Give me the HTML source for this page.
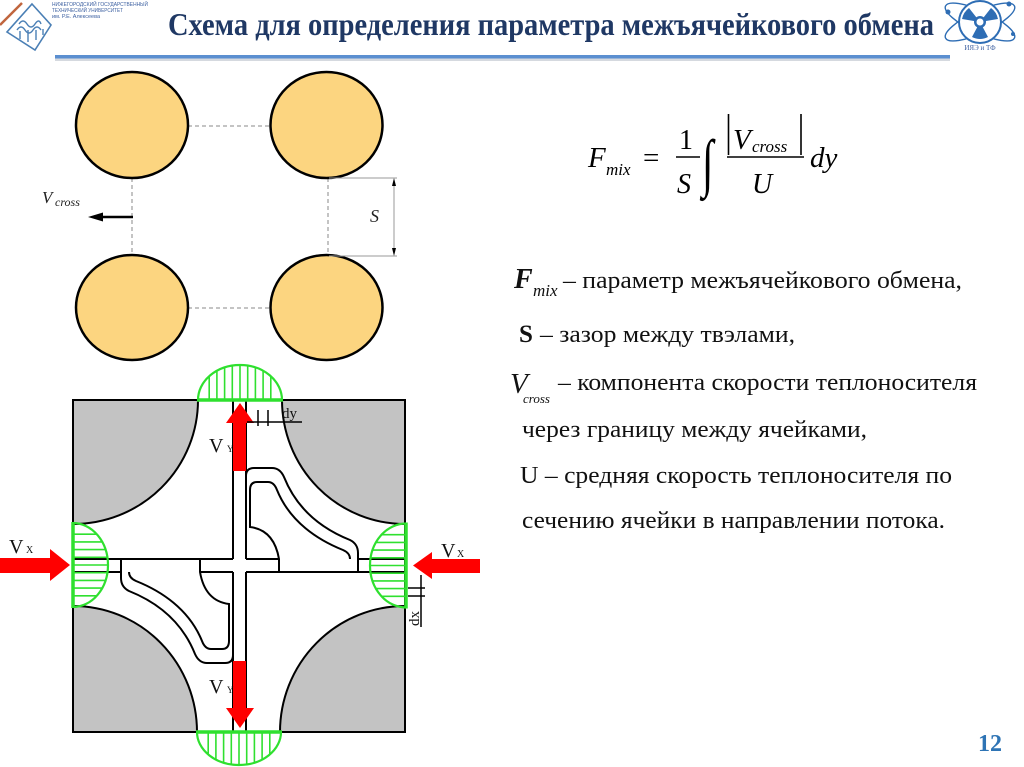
<!DOCTYPE html>
<html>
<head>
<meta charset="utf-8">
<style>
html,body{margin:0;padding:0;background:#fff;}
svg{display:block;}
</style>
</head>
<body>
<svg width="1024" height="767" viewBox="0 0 1024 767" xmlns="http://www.w3.org/2000/svg">
<rect x="0" y="0" width="1024" height="767" fill="#ffffff"/>

<!-- ===== Header ===== -->
<line x1="0" y1="25" x2="22" y2="3" stroke="#c0653e" stroke-width="2.5"/>
<polygon points="32,4 51,25 35,50 7,32" fill="none" stroke="#4a7fb5" stroke-width="1.6"/>
<path d="M17,30 q4,-6 8,0 t8,0 t8,0" fill="none" stroke="#4a7fb5" stroke-width="1.4"/>
<path d="M19,24 q4,-6 8,0 t8,0 t6,0" fill="none" stroke="#4a7fb5" stroke-width="1.4"/>
<path d="M20,31 v8 M28,30 v12 M36,30 v10 M43,29 v6" fill="none" stroke="#4a7fb5" stroke-width="1.4"/>
<g font-family="Liberation Sans, DejaVu Sans, sans-serif" font-size="5.5" fill="#3b5fa0">
<text x="52" y="6" textLength="96" lengthAdjust="spacingAndGlyphs">НИЖЕГОРОДСКИЙ ГОСУДАРСТВЕННЫЙ</text>
<text x="52" y="12" textLength="71" lengthAdjust="spacingAndGlyphs">ТЕХНИЧЕСКИЙ УНИВЕРСИТЕТ</text>
<text x="52" y="18" textLength="48" lengthAdjust="spacingAndGlyphs">им. Р.Е. Алексеева</text>
</g>

<text x="168" y="35" font-family="Liberation Serif, Noto Serif CJK SC, serif" font-weight="bold" font-size="32" fill="#1f3864" textLength="766" lengthAdjust="spacingAndGlyphs">Схема для определения параметра межъячейкового обмена</text>

<rect x="55" y="58" width="895" height="3" fill="#d5d9df"/>
<rect x="55" y="55" width="895" height="3.5" fill="#5b8fd0"/>

<g fill="none" stroke="#2e6db4" stroke-width="1.4">
<ellipse cx="980" cy="22" rx="38" ry="11" transform="rotate(25 980 22)"/>
<ellipse cx="980" cy="22" rx="38" ry="11" transform="rotate(-25 980 22)"/>
</g>
<circle cx="980" cy="22" r="21" fill="#ffffff" stroke="#2e6db4" stroke-width="2"/>
<g fill="#2e6db4">
<path d="M980,22 L969,8 A18,18 0 0 0 962,19 Z"/>
<path d="M980,22 L991,8 A18,18 0 0 1 998,19 Z"/>
<path d="M980,22 L972,37 A18,18 0 0 0 988,37 Z"/>
<circle cx="980" cy="22" r="6"/>
<circle cx="948" cy="12" r="2.5"/>
<circle cx="1009" cy="4" r="2.5"/>
<circle cx="1013" cy="34" r="2"/>
</g>
<circle cx="980" cy="22" r="3.5" fill="#ffffff"/>
<text x="980" y="50" text-anchor="middle" font-family="Liberation Serif, serif" font-size="7" fill="#3b5fa0">ИЯЭ и ТФ</text>

<!-- ===== Top diagram (rods) ===== -->
<g stroke="#8a8a8a" stroke-width="1" stroke-dasharray="4 3">
<line x1="188" y1="126" x2="270" y2="126"/>
<line x1="188" y1="308" x2="270" y2="308"/>
<line x1="132" y1="178" x2="132" y2="255"/>
<line x1="328" y1="178" x2="328" y2="255"/>
</g>
<g fill="#fcd580" stroke="#000" stroke-width="2.5">
<ellipse cx="132" cy="125" rx="56" ry="53"/>
<ellipse cx="326.5" cy="125" rx="56" ry="53"/>
<ellipse cx="132" cy="307.5" rx="56" ry="52.5"/>
<ellipse cx="326.5" cy="307.5" rx="56" ry="52.5"/>
</g>
<g stroke="#999" stroke-width="1">
<line x1="329" y1="178" x2="397" y2="178"/>
<line x1="329" y1="256" x2="397" y2="256"/>
<line x1="394" y1="180" x2="394" y2="254"/>
</g>
<polygon points="394,178 392,186 396,186" fill="#000"/>
<polygon points="394,256 392,248 396,248" fill="#000"/>
<text x="370" y="222" font-family="Liberation Serif, serif" font-style="italic" font-size="18" fill="#222">S</text>
<line x1="133" y1="217" x2="100" y2="217" stroke="#000" stroke-width="2.5"/>
<polygon points="88,217 103,212.5 103,221.5" fill="#000"/>
<text x="42" y="203" font-family="Liberation Serif, serif" font-style="italic" font-size="17" fill="#222">V</text>
<text x="55" y="206" font-family="Liberation Serif, serif" font-style="italic" font-size="12" fill="#222">cross</text>

<!-- ===== Formula ===== -->
<g font-family="Liberation Serif, serif" fill="#000">
<text x="588" y="167" font-style="italic" font-size="29">F</text>
<text x="606" y="175" font-style="italic" font-size="17">mix</text>
<text x="643" y="167" font-size="29">=</text>
<text x="679" y="149" font-size="28">1</text>
<text x="677" y="193" font-style="italic" font-size="28">S</text>
<text transform="translate(702,184) scale(0.95,1.45)" font-size="44">∫</text>
<text x="733" y="149" font-style="italic" font-size="29">V</text>
<text x="752" y="152" font-style="italic" font-size="17">cross</text>
<text x="752" y="193" font-style="italic" font-size="28">U</text>
<text x="810" y="167" font-style="italic" font-size="29">dy</text>
</g>
<line x1="676" y1="157" x2="700" y2="157" stroke="#000" stroke-width="1.5"/>
<line x1="727" y1="157" x2="804" y2="157" stroke="#000" stroke-width="1.5"/>
<line x1="728.5" y1="114" x2="728.5" y2="155" stroke="#000" stroke-width="1.6"/>
<line x1="801" y1="114" x2="801" y2="155" stroke="#000" stroke-width="1.6"/>

<!-- ===== Text block ===== -->
<g font-family="Liberation Serif, serif" fill="#111">
<text x="514" y="288" font-weight="bold" font-style="italic" font-size="28">F</text>
<text x="533" y="296" font-style="italic" font-size="17">mix</text>
<text x="563" y="288" font-size="24" textLength="399" lengthAdjust="spacingAndGlyphs">– параметр межъячейкового обмена,</text>

<text x="519" y="342" font-weight="bold" font-size="25">S</text>
<text x="540" y="342" font-size="24" textLength="255" lengthAdjust="spacingAndGlyphs">– зазор между твэлами,</text>

<text x="510" y="393" font-style="italic" font-size="29">V</text>
<text x="523" y="403" font-style="italic" font-size="13">cross</text>
<text x="558" y="390" font-size="24" textLength="419" lengthAdjust="spacingAndGlyphs">– компонента скорости теплоносителя</text>

<text x="522" y="437" font-size="24" textLength="345" lengthAdjust="spacingAndGlyphs">через границу между ячейками,</text>
<text x="520" y="483" font-size="24" textLength="432" lengthAdjust="spacingAndGlyphs">U – средняя скорость теплоносителя по</text>
<text x="522" y="528" font-size="24" textLength="423" lengthAdjust="spacingAndGlyphs">сечению ячейки в направлении потока.</text>
</g>

<!-- ===== Bottom diagram ===== -->
<g fill="#c3c3c3" stroke="#000" stroke-width="2">
<path d="M73,400 L198,400 A125,124 0 0 1 73,524 Z"/>
<path d="M405,400 L405,524 A123,124 0 0 1 282,400 Z"/>
<path d="M73,606 A124,126 0 0 1 197,732 L73,732 Z"/>
<path d="M280,732 A125,126 0 0 1 405,606 L405,732 Z"/>
</g>
<rect x="73" y="400" width="332" height="332" fill="none" stroke="#000" stroke-width="2"/>

<g stroke="#000" stroke-width="2" fill="none">
<line x1="233" y1="400" x2="233" y2="559"/>
<line x1="246" y1="400" x2="246" y2="559"/>
<line x1="233" y1="572" x2="233" y2="732"/>
<line x1="246" y1="572" x2="246" y2="732"/>
<line x1="73" y1="559" x2="233" y2="559"/>
<line x1="246" y1="559" x2="279" y2="559"/>
<line x1="358" y1="559" x2="405" y2="559"/>
<line x1="246" y1="572" x2="405" y2="572"/>
<line x1="73" y1="572" x2="121" y2="572"/>
<line x1="200" y1="572" x2="233" y2="572"/>
</g>
<g stroke="#000" stroke-width="2" fill="none">
<path d="M246,476 Q246,468 254,468 L272,468 Q280,468 284,477 C298,512 325,530 350,540 Q358,544 358,553 L358,572"/>
<path d="M250,490 Q250,482 257,482 L268,482 Q274,482 277,490 C290,522 318,540 343,550 Q350,553 350,559"/>
<path d="M250,490 L250,527 Q274,530 279,559 L279,572"/>
</g>
<g stroke="#000" stroke-width="2" fill="none" transform="rotate(180 239.5 565.5)">
<path d="M246,476 Q246,468 254,468 L272,468 Q280,468 284,477 C298,512 325,530 350,540 Q358,544 358,553 L358,572"/>
<path d="M250,490 Q250,482 257,482 L268,482 Q274,482 277,490 C290,522 318,540 343,550 Q350,553 350,559"/>
<path d="M250,490 L250,527 Q274,530 279,559 L279,572"/>
</g>

<g stroke="#2fe02f" fill="none">
<path d="M198,400 A42,35 0 0 1 282,400" stroke-width="2.2"/>
<line x1="197" y1="400" x2="283" y2="400" stroke-width="3.5"/>
<g stroke-width="1.6">
<line x1="209.2" y1="400" x2="209.2" y2="376.2"/>
<line x1="216.9" y1="400" x2="216.9" y2="370.8"/>
<line x1="224.6" y1="400" x2="224.6" y2="367.4"/>
<line x1="232.3" y1="400" x2="232.3" y2="365.6"/>
<line x1="240" y1="400" x2="240" y2="365"/>
<line x1="247.7" y1="400" x2="247.7" y2="365.6"/>
<line x1="255.4" y1="400" x2="255.4" y2="367.4"/>
<line x1="263.1" y1="400" x2="263.1" y2="370.8"/>
<line x1="270.8" y1="400" x2="270.8" y2="376.2"/>
</g>

<path d="M197,732 A42,33 0 0 0 281,732" stroke-width="2.2"/>
<line x1="196" y1="732" x2="282" y2="732" stroke-width="3.5"/>
<g stroke-width="1.6">
<line x1="208.2" y1="732" x2="208.2" y2="754.4"/>
<line x1="215.9" y1="732" x2="215.9" y2="759.6"/>
<line x1="223.6" y1="732" x2="223.6" y2="762.7"/>
<line x1="231.3" y1="732" x2="231.3" y2="764.4"/>
<line x1="239" y1="732" x2="239" y2="765"/>
<line x1="246.7" y1="732" x2="246.7" y2="764.4"/>
<line x1="254.4" y1="732" x2="254.4" y2="762.7"/>
<line x1="262.1" y1="732" x2="262.1" y2="759.6"/>
<line x1="269.8" y1="732" x2="269.8" y2="754.4"/>
</g>

<path d="M73,523 A35,42 0 0 1 73,607" stroke-width="2.2"/>
<line x1="73" y1="522" x2="73" y2="608" stroke-width="3.5"/>
<g stroke-width="1.6">
<line x1="73" y1="534.2" x2="96.8" y2="534.2"/>
<line x1="73" y1="541.9" x2="102.2" y2="541.9"/>
<line x1="73" y1="549.6" x2="105.6" y2="549.6"/>
<line x1="73" y1="557.3" x2="107.4" y2="557.3"/>
<line x1="73" y1="565" x2="108" y2="565"/>
<line x1="73" y1="572.7" x2="107.4" y2="572.7"/>
<line x1="73" y1="580.4" x2="105.6" y2="580.4"/>
<line x1="73" y1="588.1" x2="102.2" y2="588.1"/>
<line x1="73" y1="595.8" x2="96.8" y2="595.8"/>
</g>

<path d="M406,523.5 A36,42 0 0 0 406,607.5" stroke-width="2.2"/>
<line x1="406" y1="522.5" x2="406" y2="608.5" stroke-width="3.5"/>
<g stroke-width="1.6">
<line x1="406" y1="534.7" x2="381.5" y2="534.7"/>
<line x1="406" y1="542.4" x2="375.9" y2="542.4"/>
<line x1="406" y1="550.1" x2="372.5" y2="550.1"/>
<line x1="406" y1="557.8" x2="370.6" y2="557.8"/>
<line x1="406" y1="565.5" x2="370" y2="565.5"/>
<line x1="406" y1="573.2" x2="370.6" y2="573.2"/>
<line x1="406" y1="580.9" x2="372.5" y2="580.9"/>
<line x1="406" y1="588.6" x2="375.9" y2="588.6"/>
<line x1="406" y1="596.3" x2="381.5" y2="596.3"/>
</g>
</g>

<g fill="#ff0000">
<rect x="233" y="422" width="13" height="49"/>
<polygon points="226,423 254,423 240,403"/>
<rect x="233" y="661" width="13" height="48"/>
<polygon points="226,708 254,708 240,728"/>
<rect x="0" y="558" width="51" height="15"/>
<polygon points="50,549 50,581 70,565"/>
<rect x="431" y="559" width="49" height="14"/>
<polygon points="432,552 432,579 413,565.5"/>
</g>

<g font-family="Liberation Serif, serif" fill="#111">
<text x="209" y="452" font-size="20">V</text>
<text x="227" y="452" font-size="9">Y</text>
<text x="209" y="693" font-size="20">V</text>
<text x="227" y="693" font-size="9">Y</text>
<text x="9" y="553" font-size="20">V</text>
<text x="26" y="553" font-size="10">X</text>
<text x="441" y="557" font-size="20">V</text>
<text x="457" y="557" font-size="10">X</text>
</g>

<g stroke="#000" stroke-width="1.5">
<line x1="247" y1="422" x2="302" y2="422"/>
<line x1="258" y1="410" x2="258" y2="426"/>
<line x1="268" y1="410" x2="268" y2="426"/>
</g>
<text x="282" y="418" font-family="Liberation Serif, serif" font-size="15" fill="#111">dy</text>

<g stroke="#000" stroke-width="1.5">
<line x1="421" y1="575" x2="421" y2="627"/>
<line x1="408" y1="588" x2="425" y2="588"/>
<line x1="408" y1="596" x2="425" y2="596"/>
</g>
<text transform="translate(419,626) rotate(-90)" font-family="Liberation Serif, serif" font-size="15" fill="#111">dx</text>

<text x="978" y="751" font-family="Liberation Serif, serif" font-weight="bold" font-size="24" fill="#2e74b5">12</text>
</svg>
</body>
</html>
